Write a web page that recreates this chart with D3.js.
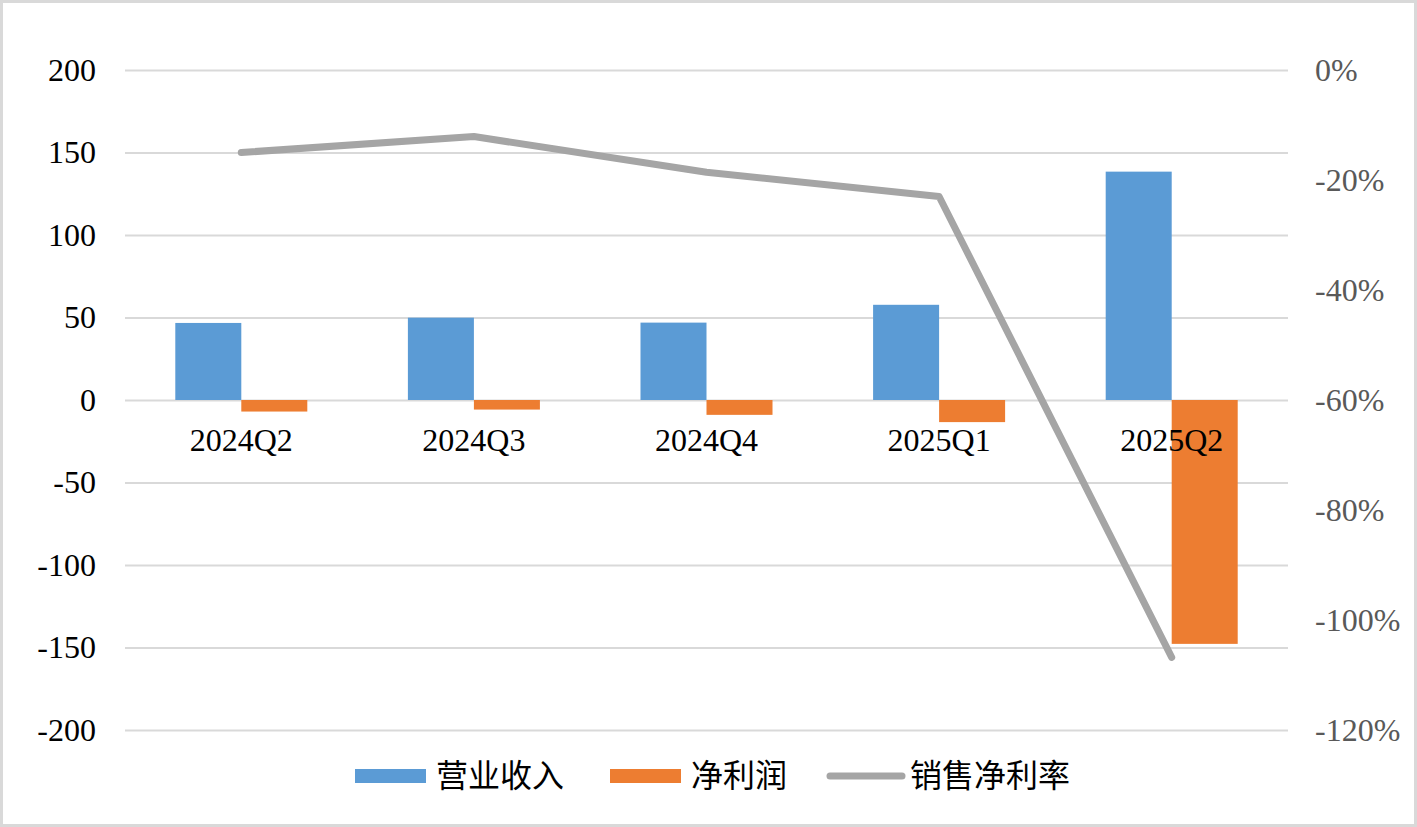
<!DOCTYPE html>
<html>
<head>
<meta charset="utf-8">
<script src="https://cdn.jsdelivr.net/npm/d3@7"></script>
<style>
  html, body { margin: 0; padding: 0; background: #fff; }
  svg { display: block; }
</style>
</head>
<body>
<svg id="chart" width="1417" height="827"></svg>
<script>
const categories = ["2024Q2", "2024Q3", "2024Q4", "2025Q1", "2025Q2"];
const seriesNames = ["营业收入", "净利润"];
const revenue = [46.7, 49.9, 46.9, 57.7, 138.4];
const netProfit = [-7.0, -5.8, -9.0, -13.4, -147.8];
const netMargin = [-0.150, -0.121, -0.186, -0.230, -1.068];
const leftTicks = [200, 150, 100, 50, 0, -50, -100, -150, -200];
const rightTicks = [0, -0.2, -0.4, -0.6, -0.8, -1.0, -1.2];
const legendNames = ["营业收入", "净利润", "销售净利率"];

const colors = { "营业收入": "#5b9bd5", "净利润": "#ed7d31", line: "#a5a5a5" };
const numFont = "'Liberation Serif', 'Times New Roman', serif";
const cjkFont = "'Liberation Serif', 'Noto Sans CJK SC', serif";

const svg = d3.select("#chart");
const W = 1417, H = 827;
const plot = { left: 125, right: 1288, top: 70, bottom: 730 };

svg.append("rect").attr("x", 1.5).attr("y", 1.5).attr("width", W - 3).attr("height", H - 3)
  .attr("fill", "#fff").attr("stroke", "#d9d9d9").attr("stroke-width", 3);

const x0 = d3.scaleBand().domain(categories).range([plot.left, plot.right]).paddingInner(0).paddingOuter(0);
const x1 = d3.scaleBand().domain(seriesNames).range([0, x0.bandwidth()]).paddingInner(0).paddingOuter(0.762);
const yL = d3.scaleLinear().domain([-200, 200]).range([plot.bottom, plot.top]);
const yR = d3.scaleLinear().domain([-1.2, 0]).range([plot.bottom, plot.top]);

// Left axis with gridlines
const gL = svg.append("g").attr("transform", `translate(${plot.left},0)`)
  .call(d3.axisLeft(yL).tickValues(leftTicks).tickSize(-(plot.right - plot.left)).tickPadding(29).tickFormat(d => String(d)));
gL.select(".domain").remove();
gL.selectAll(".tick line").attr("stroke", "#d9d9d9").attr("stroke-width", 2);
gL.selectAll(".tick text").attr("fill", "#000").style("font-family", numFont).style("font-size", "32px");

// Right axis
const gR = svg.append("g").attr("transform", `translate(${plot.right},0)`)
  .call(d3.axisRight(yR).tickValues(rightTicks).tickSize(0).tickPadding(27)
    .tickFormat(d => String(Math.round(d * 100)) + "%"));
gR.select(".domain").remove();
gR.selectAll(".tick text").attr("fill", "#595959").style("font-family", numFont).style("font-size", "32px");

// Bars
const data = categories.map((c, i) => ({ cat: c, vals: [
  { name: "营业收入", v: revenue[i] }, { name: "净利润", v: netProfit[i] } ] }));
const groups = svg.append("g").selectAll("g").data(data).join("g")
  .attr("transform", d => `translate(${x0(d.cat)},0)`);
groups.selectAll("rect").data(d => d.vals).join("rect")
  .attr("x", d => x1(d.name))
  .attr("width", x1.bandwidth())
  .attr("y", d => Math.min(yL(d.v), yL(0)))
  .attr("height", d => Math.abs(yL(d.v) - yL(0)))
  .attr("fill", d => colors[d.name]);

// Line
const line = d3.line().x((d, i) => x0(categories[i]) + x0.bandwidth() / 2).y(d => yR(d));
svg.append("path").datum(netMargin).attr("d", line)
  .attr("fill", "none").attr("stroke", colors.line).attr("stroke-width", 7)
  .attr("stroke-linecap", "round").attr("stroke-linejoin", "round");

// Category labels
svg.append("g").selectAll("text").data(categories).join("text")
  .attr("x", d => x0(d) + x0.bandwidth() / 2)
  .attr("y", 451)
  .attr("text-anchor", "middle")
  .style("font-family", numFont).style("font-size", "32px").attr("fill", "#000")
  .text(d => d);

// Legend
const legendY = 776;
const legendItems = [
  { name: legendNames[0], type: "rect", color: colors["营业收入"], x: 355 },
  { name: legendNames[1], type: "rect", color: colors["净利润"], x: 610 },
  { name: legendNames[2], type: "line", color: colors.line, x: 827 }
];
const lg = svg.append("g");
legendItems.forEach(it => {
  if (it.type === "rect") {
    lg.append("rect").attr("x", it.x).attr("y", legendY - 7).attr("width", 71).attr("height", 14).attr("fill", it.color);
    lg.append("text").attr("x", it.x + 81).attr("y", legendY + 11)
      .style("font-family", cjkFont).style("font-size", "32px").attr("fill", "#000").text(it.name);
  } else {
    lg.append("line").attr("x1", it.x + 3).attr("x2", it.x + 75).attr("y1", legendY).attr("y2", legendY)
      .attr("stroke", it.color).attr("stroke-width", 7).attr("stroke-linecap", "round");
    lg.append("text").attr("x", it.x + 83).attr("y", legendY + 11)
      .style("font-family", cjkFont).style("font-size", "32px").attr("fill", "#000").text(it.name);
  }
});
</script>
</body>
</html>
